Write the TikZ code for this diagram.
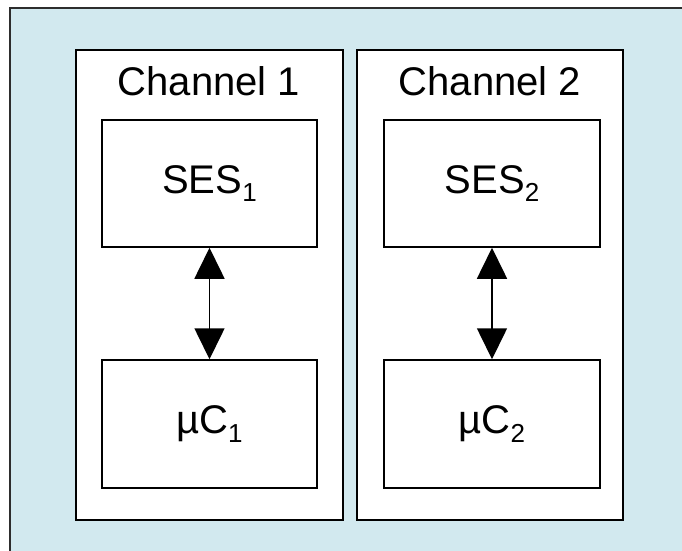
\documentclass[tikz,border=0pt]{standalone}
\usepackage{fontspec}
\setmainfont{Liberation Sans}
\usetikzlibrary{arrows.meta}
\definecolor{panelblue}{RGB}{210,233,239}
\definecolor{edgegray}{RGB}{45,45,45}
\newcommand{\lowidx}[1]{\raisebox{-0.22em}{\fontsize{26}{26}\selectfont #1}}
\tikzset{
  chanbox/.style={draw=black, fill=white, line width=1.5pt},
  unitbox/.style={draw=black, fill=white, line width=1.5pt},
  label/.style={font=\fontsize{40}{42}\selectfont, inner sep=0pt},
  link/.style={line width=1.6pt, {Triangle[width=30pt,length=31pt]}-{Triangle[width=30pt,length=31pt]}, shorten <=0pt, shorten >=0pt}
}
\begin{document}
\begin{tikzpicture}[x=1pt, y=-1pt]
  \useasboundingbox (0,0) rectangle (682,550);
  % outer panel (runs past the right and bottom edges)
  \draw[draw=edgegray, fill=panelblue, line width=1.6pt] (10,8) rectangle (700,570);

  % channel frames
  \draw[chanbox] (76,50) rectangle (343,520);
  \draw[chanbox] (357,50) rectangle (623,520);

  \node[label] (t1) at (209,81) {Channel 1};
  \node[label] (t2) at (490,81) {Channel 2};

  % channel 1
  \node[unitbox, minimum width=215pt, minimum height=127pt, inner sep=0pt] (ses1) at (209.5,183.5) {};
  \node[label] at (ses1.center) {SES\lowidx{1}};
  \node[unitbox, minimum width=215pt, minimum height=128pt, inner sep=0pt] (uc1) at (209.5,424) {};
  \node[label] at (uc1.center) {µC\lowidx{1}};
  \draw[link] (ses1.south) -- (uc1.north);

  % channel 2
  \node[unitbox, minimum width=216pt, minimum height=127pt, inner sep=0pt] (ses2) at (492,183.5) {};
  \node[label] at (ses2.center) {SES\lowidx{2}};
  \node[unitbox, minimum width=216pt, minimum height=128pt, inner sep=0pt] (uc2) at (492,424) {};
  \node[label] at (uc2.center) {µC\lowidx{2}};
  \draw[link] (ses2.south) -- (uc2.north);
\end{tikzpicture}
\end{document}
